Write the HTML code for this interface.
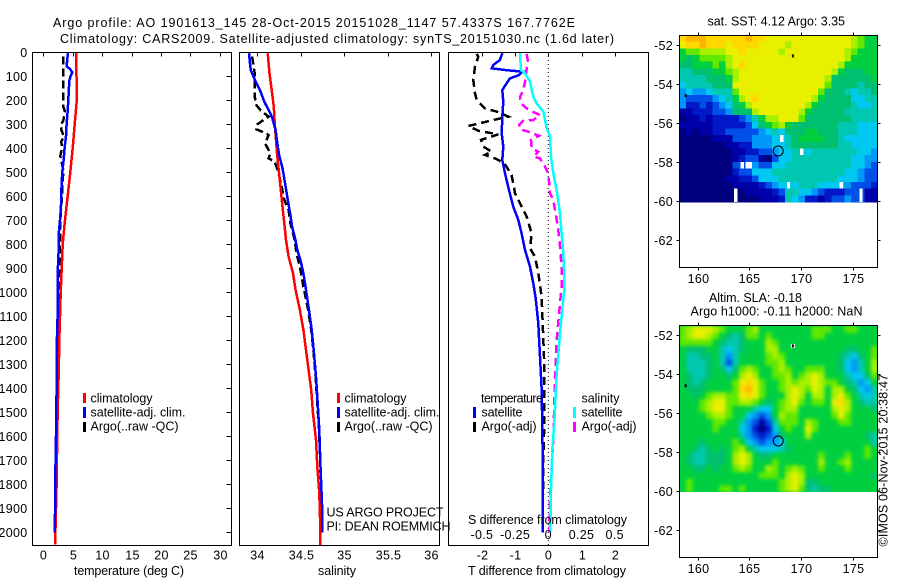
<!DOCTYPE html>
<html>
<head>
<meta charset="utf-8">
<title>Argo profile chart</title>
<style>
html,body{margin:0;padding:0;background:#fff;width:900px;height:580px;overflow:hidden}
svg{display:block}
text{font-family:"Liberation Sans",sans-serif;font-size:12.5px;fill:#000}
.frame{fill:none;stroke:#000;stroke-width:1;shape-rendering:crispEdges}
.lg{shape-rendering:crispEdges}
</style>
</head>
<body>
<svg id="chart" xmlns="http://www.w3.org/2000/svg" width="900" height="580" viewBox="0 0 900 580">
<defs>
<clipPath id="slaClip"><rect x="679.5" y="326" width="198" height="166"/></clipPath>
<filter id="slaBlur" filterUnits="userSpaceOnUse" x="660" y="306" width="240" height="206" color-interpolation-filters="sRGB"><feGaussianBlur stdDeviation="1.8"/></filter>
</defs>
<text x="53" y="27" textLength="522" lengthAdjust="spacing">Argo profile: AO 1901613_145 28-Oct-2015 20151028_1147 57.4337S 167.7762E</text>
<text x="60" y="43" textLength="554" lengthAdjust="spacing">Climatology: CARS2009. Satellite-adjusted climatology: synTS_20151030.nc (1.6d later)</text>
<g id="heat1" shape-rendering="crispEdges"></g>
<g clip-path="url(#slaClip)">
<rect x="679.5" y="326" width="198" height="166" fill="#00d040"/>
<g id="heat2" filter="url(#slaBlur)"></g>
</g>
<g id="lines"></g>
<g id="axes"></g>
<rect class="frame" x="32.5" y="52.5" width="199" height="493"/>
<rect class="frame" x="239.5" y="52.5" width="200" height="493"/>
<rect class="frame" x="448.5" y="52.5" width="200" height="493"/>
<rect class="frame" x="679.5" y="35.5" width="198" height="232"/>
<rect class="frame" x="679.5" y="325.5" width="198" height="232"/>

<text x="74" y="575" textLength="110" lengthAdjust="spacing">temperature (deg C)</text>
<text x="318" y="575" textLength="38" lengthAdjust="spacing">salinity</text>
<text x="468" y="575" textLength="158" lengthAdjust="spacing">T difference from climatology</text>
<text x="468" y="524" textLength="159" lengthAdjust="spacing">S difference from climatology</text>

<g>
<rect class="lg" x="83" y="393" width="3" height="10" fill="#f00"/>
<rect class="lg" x="83" y="407" width="3" height="11" fill="#00f"/>
<rect class="lg" x="83" y="422" width="3" height="10" fill="#000"/>
<text x="90.5" y="402.5" textLength="62" lengthAdjust="spacing">climatology</text>
<text x="90.5" y="416.5" textLength="95" lengthAdjust="spacing">satellite-adj. clim.</text>
<text x="90.5" y="430.5" textLength="88" lengthAdjust="spacing">Argo(..raw -QC)</text>
</g>
<g>
<rect class="lg" x="337" y="393" width="3" height="10" fill="#f00"/>
<rect class="lg" x="337" y="407" width="3" height="11" fill="#00f"/>
<rect class="lg" x="337" y="422" width="3" height="10" fill="#000"/>
<text x="344.5" y="402.5" textLength="62" lengthAdjust="spacing">climatology</text>
<text x="344.5" y="416.5" textLength="95" lengthAdjust="spacing">satellite-adj. clim.</text>
<text x="344.5" y="430.5" textLength="88" lengthAdjust="spacing">Argo(..raw -QC)</text>
</g>
<g>
<text x="481" y="402.5" textLength="62" lengthAdjust="spacing">temperature</text>
<rect class="lg" x="473" y="407" width="3" height="11" fill="#00f"/>
<rect class="lg" x="473" y="422" width="3" height="10" fill="#000"/>
<text x="481.5" y="416.5" textLength="41" lengthAdjust="spacing">satellite</text>
<text x="481.5" y="430.5" textLength="55" lengthAdjust="spacing">Argo(-adj)</text>
<text x="581.5" y="402.5" textLength="38" lengthAdjust="spacing">salinity</text>
<rect class="lg" x="573" y="407" width="3" height="11" fill="#0ff"/>
<rect class="lg" x="573" y="422" width="3" height="10" fill="#f0f"/>
<text x="581.5" y="416.5" textLength="41" lengthAdjust="spacing">satellite</text>
<text x="581.5" y="430.5" textLength="55" lengthAdjust="spacing">Argo(-adj)</text>
</g>

<text x="326.5" y="516.5" textLength="117" lengthAdjust="spacing">US ARGO PROJECT</text>
<text x="326.5" y="530.5" textLength="124" lengthAdjust="spacing">PI: DEAN ROEMMICH</text>

<text x="707.5" y="25.5" textLength="137.5" lengthAdjust="spacing">sat. SST: 4.12 Argo: 3.35</text>
<text x="709" y="302" textLength="93" lengthAdjust="spacing">Altim. SLA: -0.18</text>
<text x="690.5" y="315.5" textLength="172" lengthAdjust="spacing">Argo h1000: -0.11 h2000: NaN</text>
<text transform="translate(887.5,546.5) rotate(-90)" x="0" y="0" textLength="172.5" lengthAdjust="spacing">©IMOS 06-Nov-2015 20:38:47</text>
</svg>

<script>
// ---- axis tick values ----
var depthTicks = [0,100,200,300,400,500,600,700,800,900,1000,1100,1200,1300,1400,1500,1600,1700,1800,1900,2000];
var tempTicks = [0,5,10,15,20,25,30];
var salTicks = [34,34.5,35,35.5,36];
var salTickLabels = ['34','34.5','35','35.5','36'];
var tDiffTicks = [-2,-1,0,1,2];
var tDiffTickLabels = ['-2','-1','0','1','2'];
var sDiffTicks = [-0.5,-0.25,0,0.25,0.5];
var sDiffTickLabels = ['-0.5','-0.25','0','0.25','0.5'];
var lonTicks = [160,165,170,175];
var latTicks = [-52,-54,-56,-58,-60,-62];
var latTickLabels = ['-52','-54','-56','-58','-60','-62'];

// ---- temperature panel ----
var tempClimDepth = [0,200,300,400,500,600,700,800,900,1000,1100,1200,1300,1400,1500,1600,1700,1800,1900,2000,2050];
var tempClimValues = [5.6,5.7,5.34,5.0,4.6,4.15,3.69,3.3,3.13,2.96,2.84,2.72,2.66,2.55,2.43,2.38,2.32,2.27,2.16,2.05,2.0];
var tempSatDepth = [0,30,60,70,85,100,120,200,250,300,350,400,450,500,550,600,650,700,750,800,900,1000,1100,1200,1300,1400,1500,1600,1700,1800,1900,2000];
var tempSatValues = [4.2,4.08,3.97,4.53,4.93,4.65,4.42,4.25,4.14,3.97,3.86,3.63,3.46,3.23,3.12,3.06,3.0,2.84,2.66,2.66,2.49,2.49,2.43,2.32,2.32,2.27,2.21,2.16,2.1,2.0,2.0,1.94];
var tempArgoDepth = [19,227,248,286,304,328,352,373,401,433,491,600,700,800,900,1000,1200,1400,1600,1800,2000];
var tempArgoValues = [3.4,3.4,3.69,3.4,2.95,3.12,3.52,3.06,3.18,2.89,3.4,3.18,2.89,2.84,2.72,2.72,2.6,2.49,2.38,2.16,2.05];

// ---- salinity panel ----
var salClimDepth = [5,89,158,228,297,366,436,505,575,644,713,783,852,921,991,1074,1157,1241,1324,1407,1504,1615,1726,1823,1907,2053];
var salClimValues = [34.12,34.14,34.165,34.19,34.20,34.215,34.23,34.25,34.27,34.29,34.31,34.33,34.36,34.41,34.44,34.49,34.53,34.56,34.59,34.62,34.64,34.675,34.69,34.71,34.72,34.725];
var salSatDepth = [5,75,123,158,207,241,272,325,380,429,484,547,616,679,727,769,824,866,921,991,1074,1157,1241,1352,1463,1574,1740,1879,2000];
var salSatValues = [33.905,33.924,33.98,34.03,34.08,34.13,34.17,34.21,34.23,34.25,34.29,34.32,34.35,34.38,34.40,34.43,34.46,34.495,34.53,34.56,34.594,34.625,34.648,34.675,34.694,34.713,34.728,34.744,34.748];
var salArgoDepth = [19,89,130,186,221,244,269,283,304,322,339,346,380,422,443,457,498,561,616,658,713,783,838,894,977,1074,1157,1241,1352,1463,1574,1740,1879,2000];
var salArgoValues = [33.94,33.97,33.97,33.97,33.99,34.04,34.13,34.07,33.99,33.99,34.10,34.13,34.09,34.15,34.13,34.20,34.24,34.28,34.31,34.36,34.38,34.43,34.45,34.49,34.53,34.585,34.62,34.645,34.67,34.69,34.71,34.725,34.74,34.745];

// ---- difference panel ----
var tDiffSatDepth = [5,33,54,68,75,82,96,110,130,158,207,269,339,394,450,505,575,644,699,755,824,894,963,1026,1130,1268,1407,1685,2000];
var tDiffSatValues = [-1.385,-1.455,-1.656,-1.706,-1.304,-0.782,-0.883,-1.154,-1.254,-1.385,-1.355,-1.385,-1.405,-1.355,-1.385,-1.304,-1.184,-1.053,-0.903,-0.803,-0.702,-0.552,-0.451,-0.381,-0.30,-0.25,-0.2,-0.17,-0.17];
var tDiffArgoDepth = [8,19,61,117,172,200,235,248,269,283,308,328,343,366,394,415,429,443,463,512,588,630,686,755,817,852,921,991,1026,1130,1268,1546,1700,2000];
var tDiffArgoValues = [-2.158,-2.108,-2.208,-2.259,-2.208,-2.158,-1.907,-1.555,-1.205,-1.656,-2.409,-2.108,-1.505,-2.027,-1.957,-1.706,-1.907,-1.605,-1.325,-1.104,-1.003,-0.852,-0.652,-0.5,-0.552,-0.4,-0.3,-0.23,-0.2,-0.17,-0.13,-0.12,-0.15,-0.17];
var sDiffSatDepth = [5,75,89,123,186,214,248,318,352,436,505,575,672,755,838,921,991,1171,1338,1546,1657,1823,2000];
var sDiffSatValues = [-0.213,-0.206,-0.175,-0.138,-0.113,-0.087,-0.037,-0.012,0.013,0.02,0.038,0.063,0.088,0.1,0.113,0.12,0.12,0.088,0.063,0.045,0.03,0.02,0.015];
var sDiffArgoDepth = [8,33,123,158,186,214,235,248,262,283,287,304,322,332,349,366,401,415,436,443,477,505,588,616,699,741,810,894,977,1047,1199,1380,1615,1726,1865,2000];
var sDiffArgoValues = [-0.163,-0.155,-0.175,-0.188,-0.213,-0.206,-0.163,-0.12,-0.063,-0.113,-0.188,-0.22,-0.213,-0.15,-0.07,-0.13,-0.125,-0.075,-0.113,-0.063,-0.025,0,0.013,0.038,0.063,0.075,0.088,0.1,0.1,0.088,0.063,0.05,0.038,0.025,0.013,0.005];

// ---- map values (colour-scale level per cell, -1 = no data) ----
var sstGrid = [
[12,13,13,13,12,12,12,12,12,12,13,12,12,11,11,11,11,11,11,11,11,11,11,11,11,11,10,9,8,8],
[11,12,12,13,12,12,12,11,12,12,12,12,11,11,11,11,10,11,11,11,11,11,11,11,11,11,10,9,8,8],
[8,9,9,10,10,10,10,11,11,12,11,11,11,11,11,10,11,11,11,11,11,11,11,11,11,10,9,8,8,8],
[8,7,8,9,9,9,9,10,11,11,11,11,11,11,11,11,11,11,11,11,11,11,11,11,11,10,8,8,8,8],
[7,7,8,8,8,9,8,10,11,12,11,11,11,11,11,11,11,11,11,11,11,11,11,11,10,8,8,8,8,8],
[6,6,7,7,7,8,8,9,10,11,11,11,11,11,11,11,11,11,11,11,11,11,11,10,8,7,7,7,8,8],
[6,6,6,6,7,7,7,8,10,11,11,11,11,11,11,11,11,11,11,11,11,11,10,7,7,7,7,7,7,8],
[5,6,6,6,6,7,7,7,11,11,11,11,11,11,11,11,11,11,11,11,11,11,9,7,7,7,7,6,7,7],
[4,5,4,4,5,6,6,6,9,11,11,11,11,11,11,11,11,11,11,11,11,9,7,7,7,6,5,6,6,7],
[4,3,3,3,3,4,5,6,8,10,11,12,11,11,11,11,11,11,11,11,10,8,7,7,7,7,5,5,6,6],
[4,2,2,3,2,3,4,5,7,8,10,11,11,11,11,11,11,11,11,10,8,7,7,7,7,7,6,5,5,6],
[1,1,2,2,2,3,3,4,7,7,7,10,11,11,11,11,11,11,10,8,7,7,7,7,7,6,6,6,6,6],
[0,1,1,2,1,2,2,2,2,3,4,6,8,10,10,11,11,11,9,7,7,7,7,7,7,7,6,6,6,6],
[1,1,1,1,1,2,2,2,2,2,3,5,7,8,9,10,8,7,7,7,7,7,7,7,6,6,6,5,5,5],
[0,1,0,1,1,2,2,3,3,3,3,3,4,5,6,5,7,7,7,8,8,7,7,7,6,6,6,5,5,5],
[0,0,0,0,0,1,1,1,3,3,3,4,4,4,5,-1,6,7,8,8,8,8,7,7,6,5,5,5,5,5],
[0,0,0,0,0,0,0,1,1,2,2,4,4,4,5,5,6,7,7,7,7,7,7,7,6,6,5,5,5,5],
[0,0,0,0,0,0,0,0,1,1,2,2,3,3,4,5,5,6,-1,5,6,6,6,6,6,6,6,5,5,4],
[0,0,0,0,0,0,0,0,1,2,3,3,1,0,3,5,5,6,6,6,6,6,6,6,6,6,5,5,4,4],
[0,0,0,0,0,0,0,0,3,-1,-1,4,3,3,5,5,6,6,6,6,6,6,6,6,6,6,5,5,4,3],
[0,0,0,0,0,0,0,0,2,3,3,5,5,5,6,6,6,6,6,6,6,6,6,6,6,5,5,4,3,3],
[0,0,0,0,0,0,0,1,1,2,2,3,5,5,5,6,6,6,6,6,6,6,6,6,5,5,5,4,3,3],
[0,0,0,0,0,0,0,0,1,1,1,1,2,3,4,5,-1,5,6,6,6,5,5,5,-1,4,3,3,3,2],
[0,0,0,0,0,0,0,0,-1,0,1,1,1,1,2,3,6,6,5,5,4,3,2,2,2,3,3,-1,1,1],
[0,0,0,0,0,0,0,0,-1,0,0,0,1,1,1,2,6,5,4,2,2,1,2,3,3,4,3,-1,1,1]
];
var slaGrid = [
[9,10,11,11,11,10,9,8,8,8,9,10,8,8,8,8,8,8,8,8,9,9,9,8,8,9,9,8,8,8],
[9,10,11,11,10,9,8,7,6,7,9,9,8,9,8,8,8,8,8,8,9,9,8,8,8,8,8,8,8,8],
[9,9,9,9,9,8,7,6,6,7,8,8,8,10,9,8,8,8,8,8,8,8,8,8,8,8,8,8,8,8],
[8,7,7,7,8,8,6,5,6,7,8,8,8,10,10,8,8,8,8,8,8,8,8,8,8,7,7,8,8,9],
[8,6,6,7,7,8,6,4,6,8,8,8,8,9,10,9,8,8,8,8,8,8,8,8,7,6,5,7,8,9],
[8,6,6,6,7,8,6,3,6,8,8,8,8,9,9,10,8,8,8,8,8,8,8,8,7,5,4,6,8,10],
[8,6,6,6,7,8,7,5,7,9,10,9,8,8,9,10,9,8,8,9,9,9,8,8,7,5,4,6,8,10],
[8,7,6,6,7,8,8,7,8,10,11,10,8,8,9,9,10,8,9,10,11,10,8,8,8,6,5,5,7,9],
[8,7,6,7,8,8,8,8,9,11,12,11,9,8,8,9,10,9,10,10,11,10,9,9,8,7,6,4,5,8],
[8,7,7,7,8,8,8,8,9,12,13,11,9,8,8,9,10,11,10,9,11,10,8,10,10,8,7,5,4,6],
[8,8,7,8,9,10,10,9,9,11,12,11,9,8,8,8,10,11,10,8,10,10,8,10,11,9,8,6,5,6],
[8,8,8,9,10,11,11,9,9,10,10,9,8,7,8,9,10,11,9,8,9,9,8,11,12,10,8,7,6,6],
[8,8,8,9,10,11,11,9,8,8,8,6,5,5,8,9,10,10,8,8,8,8,8,10,11,10,8,8,8,7],
[8,8,8,8,9,10,10,9,8,8,5,4,3,4,8,10,9,9,8,8,8,8,8,9,11,9,8,8,8,8],
[8,8,8,8,8,9,9,8,8,6,4,3,1,3,6,9,9,9,8,10,9,8,8,8,9,9,8,8,8,8],
[8,8,8,8,8,9,8,8,8,5,4,2,0,2,5,8,9,8,8,11,9,8,8,8,8,8,8,8,8,8],
[8,8,8,8,8,8,8,8,8,6,4,3,2,3,4,7,8,8,8,10,8,8,8,8,8,8,8,8,7,6],
[8,8,8,7,8,8,8,8,9,8,5,4,3,4,4,5,8,8,8,8,8,8,8,8,8,8,8,8,8,6],
[8,8,7,6,7,8,7,8,9,10,8,6,5,5,5,6,7,8,8,8,8,8,8,8,8,8,8,8,9,8],
[8,7,6,6,7,7,7,8,10,11,10,8,7,7,8,8,8,8,8,8,8,9,8,8,8,9,8,8,9,8],
[8,7,6,6,7,7,7,8,10,11,10,8,8,8,9,8,8,8,8,8,8,10,8,8,9,10,8,8,8,8],
[8,8,7,7,8,7,8,8,9,10,9,8,8,10,9,8,9,10,9,8,8,9,8,8,8,9,8,8,8,8],
[8,8,8,8,8,8,8,8,8,8,8,8,9,9,9,8,10,11,10,8,8,8,8,8,8,8,8,8,8,7],
[8,9,8,8,8,8,8,8,8,8,8,8,8,8,8,9,10,11,10,7,7,8,8,8,8,8,8,8,8,8],
[8,9,8,8,8,8,9,9,8,9,8,8,8,8,8,9,10,11,9,7,6,7,7,8,8,8,8,8,8,8]
];
var floatLon = [167.7762];
var floatLat = [-57.4337];
var islandLon = [169.2,158.84];
var islandLat = [-52.56,-54.6];

// ---- axis functions ----
var NS = 'http://www.w3.org/2000/svg';
function yDepth(d){ return 52 + d * 0.2402; }
function xTemp(t){ return 43.3 + t * 5.88; }
function xSal(s){ return 257.3 + (s - 34) * 87; }
function xTDiff(t){ return 548.3 + t * 33.2; }
function xSDiff(s){ return 548.3 + s * 4 * 33.2; }
function xLon(lon){ return 697.7 + (lon - 160) * 10.35; }
function yLat1(lat){ return 45 + (-52 - lat) * 19.5; }
function yLat2(lat){ return 335 + (-52 - lat) * 19.5; }
var levelColors = ['#00007f','#0000a8','#0018c8','#0050e8','#0098f8','#00c8f0','#00c8b0','#00c070','#00d040','#60e800','#a8f000','#e8f000','#ffd800','#ffb400'];
function levelColor(v){
  if (v < 0) return '#ffffff';
  var i = Math.max(0, Math.min(levelColors.length - 1, Math.round(v)));
  return levelColors[i];
}

var linesG = document.getElementById('lines');
var axesG = document.getElementById('axes');

function drawLine(depths, values, xFn, color, width, dash, name){
  var pts = [];
  for (var i = 0; i < depths.length; i++){
    pts.push(xFn(values[i]).toFixed(1) + ',' + yDepth(depths[i]).toFixed(1));
  }
  var el = document.createElementNS(NS, 'polyline');
  el.setAttribute('points', pts.join(' '));
  el.setAttribute('fill', 'none');
  el.setAttribute('stroke', color);
  el.setAttribute('stroke-width', width);
  el.setAttribute('shape-rendering', 'crispEdges');
  if (dash) el.setAttribute('stroke-dasharray', dash);
  
  
  linesG.appendChild(el);
}

function tickLine(x1, y1, x2, y2){
  var el = document.createElementNS(NS, 'line');
  el.setAttribute('x1', x1);
  el.setAttribute('y1', y1);
  el.setAttribute('x2', x2);
  el.setAttribute('y2', y2);
  el.setAttribute('stroke', '#000');
  el.setAttribute('stroke-width', 1);
  el.setAttribute('shape-rendering', 'crispEdges');
  
  
  axesG.appendChild(el);
}

function tickLabel(x, y, str, anchor){
  var el = document.createElementNS(NS, 'text');
  el.setAttribute('x', x);
  el.setAttribute('y', y);
  el.setAttribute('text-anchor', anchor);
  el.setAttribute('letter-spacing', '0.3');
  el.textContent = str;
  
  
  axesG.appendChild(el);
}

function drawHeat(groupId, grid, left, top, width, height, name){
  var g = document.getElementById(groupId);
  var rows = grid.length;
  for (var r = 0; r < rows; r++){
    var cols = grid[r].length;
    for (var c = 0; c < cols; c++){
      var v = grid[r][c];
      var cellW = width / cols;
      var el = document.createElementNS(NS, 'rect');
      el.setAttribute('x', (left + c * cellW).toFixed(2));
      el.setAttribute('y', (top + r * height / rows).toFixed(2));
      el.setAttribute('width', (cellW + 0.4).toFixed(2));
      el.setAttribute('height', (height / rows + 0.4).toFixed(2));
      el.setAttribute('fill', levelColor(v < 0 && c > 0 ? grid[r][c - 1] : v));
      
      
      g.appendChild(el);
      if (v < 0){
        var gap = document.createElementNS(NS, 'rect');
        gap.setAttribute('x', (left + c * cellW + cellW / 4).toFixed(2));
        gap.setAttribute('y', (top + r * height / rows).toFixed(2));
        gap.setAttribute('width', (cellW / 2).toFixed(2));
        gap.setAttribute('height', (height / rows).toFixed(2));
        gap.setAttribute('fill', '#ffffff');
        
        
        g.appendChild(gap);
      }
    }
  }
}

function drawMapMarks(yFn, halo){
  var i;
  for (i = 0; i < islandLon.length; i++){
    if (halo && i === 0){
      var h = document.createElementNS(NS, 'rect');
      h.setAttribute('x', (xLon(islandLon[i]) - 2).toFixed(1));
      h.setAttribute('y', (yFn(islandLat[i]) - 2).toFixed(1));
      h.setAttribute('width', 4);
      h.setAttribute('height', 4);
      h.setAttribute('fill', '#fff');
      
      
      axesG.appendChild(h);
    }
    var m = document.createElementNS(NS, 'rect');
    m.setAttribute('x', (xLon(islandLon[i]) - 1).toFixed(1));
    m.setAttribute('y', (yFn(islandLat[i]) - 1.5).toFixed(1));
    m.setAttribute('width', 2);
    m.setAttribute('height', 3);
    m.setAttribute('fill', '#000');
    
    
    axesG.appendChild(m);
  }
  for (i = 0; i < floatLon.length; i++){
    var c = document.createElementNS(NS, 'circle');
    c.setAttribute('cx', xLon(floatLon[i]).toFixed(1));
    c.setAttribute('cy', yFn(floatLat[i]).toFixed(1));
    c.setAttribute('r', 5);
    c.setAttribute('fill', 'none');
    c.setAttribute('stroke', '#000');
    c.setAttribute('stroke-width', 1);
    
    
    axesG.appendChild(c);
  }
}

// ---- heatmaps ----
drawHeat('heat1', sstGrid, 679.5, 35, 198, 167, 'sst-cell');
drawHeat('heat2', slaGrid, 679.5, 326, 198, 166, 'sla-cell');

// ---- zero line of the difference panel ----
var zero = document.createElementNS(NS, 'line');
zero.setAttribute('x1', xTDiff(0));
zero.setAttribute('x2', xTDiff(0));
zero.setAttribute('y1', 52);
zero.setAttribute('y2', 545);
zero.setAttribute('stroke', '#000');
zero.setAttribute('stroke-width', 1);
zero.setAttribute('stroke-dasharray', '1 3');


linesG.appendChild(zero);

// ---- profile lines ----
drawLine(tempArgoDepth, tempArgoValues, xTemp, '#000', 2.5, '8 4', 'temperature-argo-line');
drawLine(tempClimDepth, tempClimValues, xTemp, '#f00', 2.5, null, 'temperature-climatology-line');
drawLine(tempSatDepth, tempSatValues, xTemp, '#00f', 2.5, null, 'temperature-satellite-line');
drawLine(salArgoDepth, salArgoValues, xSal, '#000', 2.5, '8 4', 'salinity-argo-line');
drawLine(salClimDepth, salClimValues, xSal, '#f00', 2.5, null, 'salinity-climatology-line');
drawLine(salSatDepth, salSatValues, xSal, '#00f', 2.5, null, 'salinity-satellite-line');
drawLine(tDiffArgoDepth, tDiffArgoValues, xTDiff, '#000', 2.5, '8 5', 't-difference-argo-line');
drawLine(sDiffArgoDepth, sDiffArgoValues, xSDiff, '#f0f', 2.5, '8 5', 's-difference-argo-line');
drawLine(tDiffSatDepth, tDiffSatValues, xTDiff, '#00f', 2.5, null, 't-difference-satellite-line');
drawLine(sDiffSatDepth, sDiffSatValues, xSDiff, '#0ff', 2.5, null, 's-difference-satellite-line');

// ---- axes ----
depthTicks.forEach(function(d){
  var y = Math.round(yDepth(d)) + 0.5;
  tickLine(226.5, y, 231.5, y);
  tickLabel(27.5, y + 4.5, String(d), 'end');
});
tempTicks.forEach(function(t){
  var x = Math.round(xTemp(t)) + 0.5;
  tickLine(x, 52.5, x, 56.5);
  tickLabel(x, 559.5, String(t), 'middle');
});
salTicks.forEach(function(s, i){
  var x = Math.round(xSal(s)) + 0.5;
  tickLine(x, 52.5, x, 56.5);
  tickLabel(x, 559.5, salTickLabels[i], 'middle');
});
tDiffTicks.forEach(function(t, i){
  var x = Math.round(xTDiff(t)) + 0.5;
  tickLine(x, 52.5, x, 56.5);
  tickLabel(x, 559.5, tDiffTickLabels[i], 'middle');
});
sDiffTicks.forEach(function(s, i){
  tickLabel(xSDiff(s), 539, sDiffTickLabels[i], 'middle');
});

function drawMapAxes(yFn, top, bottom){
  lonTicks.forEach(function(lon){
    var x = Math.round(xLon(lon)) + 0.5;
    tickLine(x, top + 0.5, x, top - 2.5);
    tickLine(x, bottom + 0.5, x, bottom + 3.5);
    tickLabel(x, bottom + 16, String(lon), 'middle');
  });
  latTicks.forEach(function(lat, i){
    var y = Math.round(yFn(lat)) + 0.5;
    tickLine(676.5, y, 679.5, y);
    tickLine(877.5, y, 880.5, y);
    tickLabel(673, y + 4.5, latTickLabels[i], 'end');
  });
}
drawMapAxes(yLat1, 35, 267);
drawMapAxes(yLat2, 325, 557);
drawMapMarks(yLat1, false);
drawMapMarks(yLat2, true);
</script>
</body>
</html>
